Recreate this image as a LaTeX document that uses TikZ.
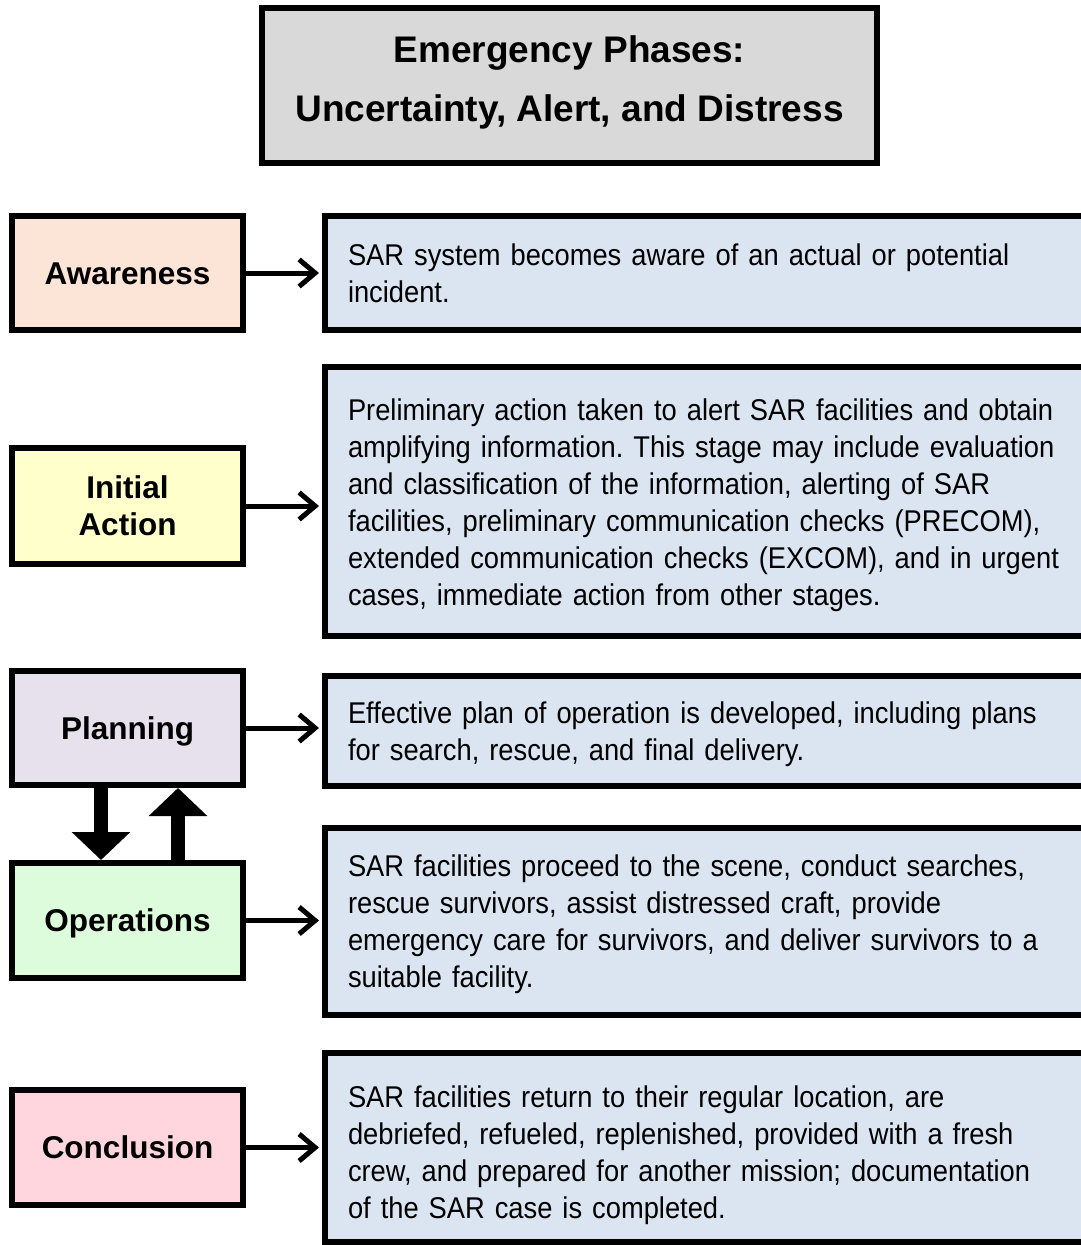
\documentclass[tikz,border=0pt]{standalone}
\usepackage{fontspec}
\setmainfont{Liberation Sans}
\newfontfamily\narrowfont[FakeStretch=0.91]{Liberation Sans}
\usetikzlibrary{arrows.meta}
\definecolor{titlegray}{HTML}{D9D9D9}
\definecolor{awarefill}{HTML}{FCE4D6}
\definecolor{initfill}{HTML}{FFFFCC}
\definecolor{planfill}{HTML}{E7E1ED}
\definecolor{opsfill}{HTML}{DDFCDC}
\definecolor{conclfill}{HTML}{FFD6DE}
\definecolor{descblue}{HTML}{DBE5F1}
\frenchspacing
% invisible strut that pushes a text block down
\newcommand{\topstrut}[1]{\rule{0pt}{#1}}
\begin{document}
\begin{tikzpicture}[x=1pt,y=-1pt,
  box/.style={draw=black, line width=6pt, rectangle, inner sep=0pt},
  phase/.style={box, minimum width=231pt, align=center,
    font=\bfseries\fontsize{31.5}{37}\selectfont},
  oneline/.style={text height=22.5pt, text depth=0pt},
  desc/.style={box, fill=descblue, anchor=west, text width=760pt,
    inner xsep=23pt, align=left,
    font=\narrowfont\fontsize{30}{37}\selectfont},
  link/.style={line width=5pt, -{Straight Barb[length=16pt,width=27pt]},
    shorten >=3pt},
  flow/.style={line width=14pt, -{Triangle[length=28pt,width=57pt]}}]
\useasboundingbox (0,0) rectangle (1081,1245);
\clip (0,0) rectangle (1081,1245);

% heading
\node[box, fill=titlegray, minimum width=615pt, minimum height=155pt,
  align=center, font=\bfseries\fontsize{37}{59}\selectfont]
  (title) at (569.5,85.5) {Emergency Phases:\\Uncertainty, Alert, and Distress\rule[-14pt]{0pt}{1pt}};

% stages
\node[phase, oneline, fill=awarefill, minimum height=114pt] (aware) at (127.5,273) {Awareness};
\node[phase, fill=initfill, minimum height=116pt] (init) at (127.5,506) {Initial\\Action};
\node[phase, oneline, fill=planfill, minimum height=114pt] (plan) at (127.5,728) {Planning};
\node[phase, oneline, fill=opsfill, minimum height=115pt] (ops) at (127.5,920.5) {Operations};
\node[phase, oneline, fill=conclfill, minimum height=115pt] (concl) at (127.5,1147.5) {Conclusion};

% descriptions
\node[desc, minimum height=114pt] (awared) at (322,273)
  {SAR system becomes aware of an actual or potential\\incident.};
\node[desc, minimum height=269pt] (initd) at (322,501.5)
  {\topstrut{30pt}Preliminary action taken to alert SAR facilities and obtain\\
   amplifying information. This stage may include evaluation\\
   and classification of the information, alerting of SAR\\
   facilities, preliminary communication checks (PRECOM),\\
   extended communication checks (EXCOM), and in urgent\\
   cases, immediate action from other stages.};
\node[desc, minimum height=110pt] (pland) at (322,731)
  {\topstrut{28pt}Effective plan of operation is developed, including plans\\
   for search, rescue, and final delivery.};
\node[desc, minimum height=187pt] (opsd) at (322,921.5)
  {\topstrut{28pt}SAR facilities proceed to the scene, conduct searches,\\
   rescue survivors, assist distressed craft, provide\\
   emergency care for survivors, and deliver survivors to a\\
   suitable facility.};
\node[desc, minimum height=189pt] (concld) at (322,1147.5)
  {\topstrut{38pt}SAR facilities return to their regular location, are\\
   debriefed, refueled, replenished, provided with a fresh\\
   crew, and prepared for another mission; documentation\\
   of the SAR case is completed.};

% stage to description links
\foreach \s in {aware,init,plan,ops,concl}
  \draw[link] (\s.east) -- (\s.east -| \s d.west);

% loop between planning and operations
\coordinate (down) at ([xshift=-26.5pt]plan.south);
\coordinate (up) at ([xshift=50.5pt]ops.north);
\draw[flow] (down) -- (down |- ops.north);
\draw[flow] (up) -- (up |- plan.south);
\end{tikzpicture}
\end{document}
